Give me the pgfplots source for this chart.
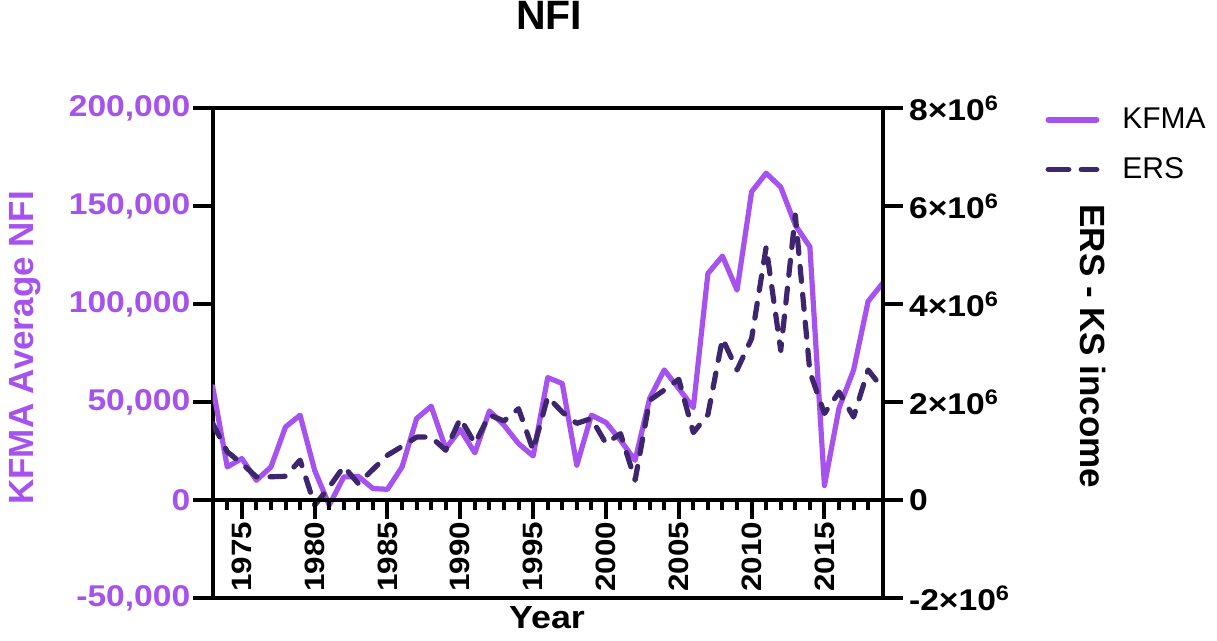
\documentclass[border=0pt]{standalone}
\usepackage{fontspec}
\setmainfont{Liberation Sans}
\newfontfamily\tickfont[FakeStretch=1.12]{Liberation Sans}
\usepackage{pgfplots}
\pgfplotsset{compat=1.18}
\definecolor{kfma}{RGB}{166,82,238}
\definecolor{ers}{RGB}{62,38,110}
\begin{document}
\begin{tikzpicture}
\pgfplotsset{
  base/.style={scale only axis, width=335pt, height=245pt, xmin=1973, xmax=2019,
    every tick/.style={line width=2pt, black},
    major tick length=10pt, minor tick length=5pt, scaled ticks=false},
  fix/.style={axis line style={line width=2pt,-}, tick align=outside},
}
% left axis: KFMA
\begin{axis}[base, ymin=-50000, ymax=200000,
  axis x line=box, axis y line=left, xtick=\empty,
  ytick={-50000,0,50000,100000,150000,200000},
  yticklabels={{-50,000},{0},{50,000},{100,000},{150,000},{200,000}},
  yticklabel style={font=\fontsize{15}{15}\tickfont\bfseries, color=kfma, inner sep=1pt},
  ylabel={KFMA Average NFI},
  ylabel style={font=\fontsize{17.5}{17.5}\selectfont\bfseries, color=kfma, at={(axis description cs:-0.2806,0.511)}, anchor=center},
  title={NFI},
  title style={font=\fontsize{20.5}{20.5}\selectfont\bfseries, at={(axis description cs:0.502,1.1353)}, anchor=base},
  legend style={draw=none, fill=none, at={(axis description cs:1.2425,1.01)}, anchor=north west, inner sep=0pt, row sep=9pt, font=\fontsize{15}{15}\selectfont,
    /tikz/every odd column/.append style={column sep=9.5pt}},
  legend cell align=left,
  legend image code/.code={\draw[#1, line width=2.9pt] (1.5pt,0pt) -- (25.5pt,0pt);},
  fix,
]
\addplot[kfma, line width=2.6pt, line join=round, line cap=round] coordinates {
(1973,58000) (1974,17000) (1975,21300) (1976,10200) (1977,17000) (1978,37400) (1979,43400)
(1980,15300) (1981,-2500) (1982,11900) (1983,12200) (1984,6000) (1985,5600) (1986,17000)
(1987,41700) (1988,48000) (1989,26400) (1990,36100) (1991,24200) (1992,45600) (1993,38300)
(1994,28900) (1995,22600) (1996,62600) (1997,59600) (1998,17900) (1999,43400) (2000,39700)
(2001,30600) (2002,20400) (2003,52000) (2004,66500) (2005,57000) (2006,47300) (2007,115700)
(2008,124600) (2009,107200) (2010,157400) (2011,166900) (2012,159800) (2013,140400)
(2014,129300) (2015,7500) (2016,47000) (2017,66400) (2018,101500) (2019,110800)
};
\addlegendentry{KFMA}
\addlegendimage{ers, line width=2.6pt, dash pattern=on 10pt off 6.5pt, line cap=round}
\addlegendentry{ERS}
\end{axis}
% right axis: ERS
\begin{axis}[base, ymin=-2000000, ymax=8000000,
  axis x line=none, axis y line=right,
  ytick={-2000000,0,2000000,4000000,6000000,8000000},
  yticklabels={{-2×10\textsuperscript{6}},{0},{2×10\textsuperscript{6}},{4×10\textsuperscript{6}},{6×10\textsuperscript{6}},{8×10\textsuperscript{6}}},
  yticklabel style={font=\fontsize{15}{15}\tickfont\bfseries, inner sep=3pt},
  ylabel={ERS - KS income},
  ylabel style={font=\fontsize{17.5}{17.5}\selectfont\bfseries, at={(axis description cs:1.3139,0.514)}, anchor=center, rotate=180},
  fix,
]
\addplot[ers, line width=2.6pt, dash pattern=on 7.5pt off 6.5pt, line cap=round, line join=round] coordinates {
(1973,1570000) (1974,990000) (1975,750000) (1976,480000) (1977,480000) (1978,490000) (1979,820000)
(1980,-100000) (1981,270000) (1982,690000) (1983,340000) (1984,630000) (1985,920000) (1986,1100000)
(1987,1290000) (1988,1290000) (1989,1020000) (1990,1670000) (1991,1160000) (1992,1740000) (1993,1620000)
(1994,1870000) (1995,1020000) (1996,2110000) (1997,1800000) (1998,1570000) (1999,1670000) (2000,1160000)
(2001,1360000) (2002,410000) (2003,2040000) (2004,2250000) (2005,2470000) (2006,1380000) (2007,1750000)
(2008,3300000) (2009,2660000) (2010,3300000) (2011,5170000) (2012,3060000) (2013,5820000)
(2014,2620000) (2015,1770000) (2016,2210000) (2017,1700000) (2018,2660000) (2019,2280000)
};
\end{axis}
% x axis at zero
\begin{axis}[base, ymin=-50000, ymax=200000,
  axis y line=none, axis x line=middle,
  xtick={1975,1980,1985,1990,1995,2000,2005,2010,2015},
  xticklabels={1975,1980,1985,1990,1995,2000,2005,2010,2015},
  minor xtick={1974,...,2018},
  xticklabel style={rotate=90, anchor=east, font=\fontsize{14}{14}\tickfont\bfseries, inner sep=1pt},
  xlabel={Year},
  xlabel style={font=\fontsize{16}{16}\tickfont\bfseries, at={(axis description cs:0.499,0)}, anchor=base, yshift=-15.35pt},
  fix, major tick length=9.5pt,
]
\end{axis}
\pgfresetboundingbox
\path (-106.35pt,-21.35pt) rectangle (502.15pt,299.15pt);
\end{tikzpicture}
\end{document}
